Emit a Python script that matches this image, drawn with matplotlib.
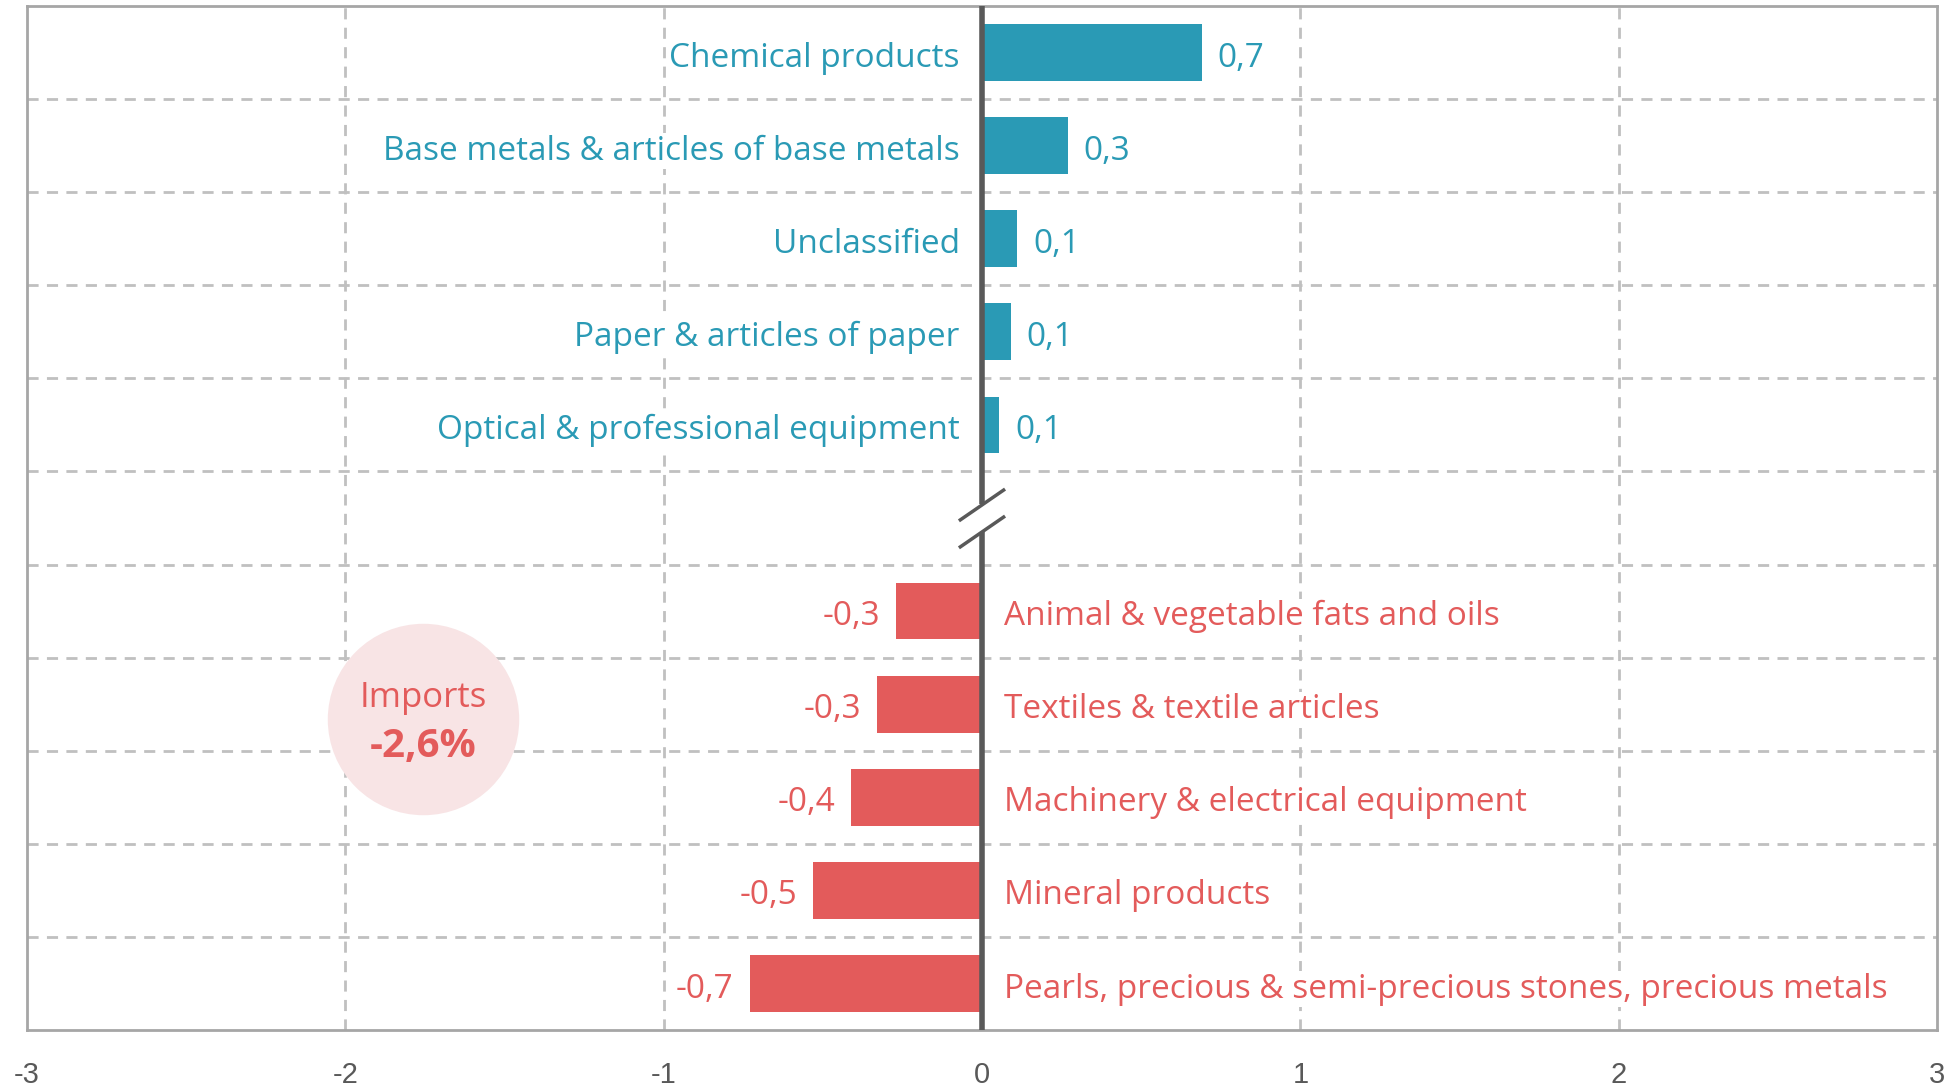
import numpy as np
import matplotlib.pyplot as plt

# data
pos_labels = ['Chemical products', 'Base metals & articles of base metals', 'Unclassified',
              'Paper & articles of paper', 'Optical & professional equipment']
pos_values = [0.69, 0.27, 0.11, 0.09, 0.055]
pos_text = ['0,7', '0,3', '0,1', '0,1', '0,1']

neg_labels = ['Animal & vegetable fats and oils', 'Textiles & textile articles',
              'Machinery & electrical equipment', 'Mineral products',
              'Pearls, precious & semi-precious stones, precious metals']
neg_values = [-0.27, -0.33, -0.41, -0.53, -0.73]
neg_text = ['-0,3', '-0,3', '-0,4', '-0,5', '-0,7']

xticks = [-3, -2, -1, 0, 1, 2, 3]

teal = '#2a9ab5'
red = '#e35b5b'
plt.rcParams['font.family'] = ['Open Sans', 'DejaVu Sans']

fig = plt.figure(figsize=(19.54, 10.91), dpi=100)
ax = fig.add_axes([0.0138, 0.0559, 0.9775, 0.9386])

pos_y = np.arange(len(pos_values))
neg_y = np.arange(len(neg_values)) + len(pos_values) + 1
gap_y = len(pos_values)

ax.barh(pos_y, pos_values, height=0.61, color=teal, zorder=2)
ax.barh(neg_y, neg_values, height=0.61, color=red, zorder=2)

fs = 24
bg = dict(facecolor='white', edgecolor='none', pad=1)
dy = 0.06
for y, v, lab, t in zip(pos_y, pos_values, pos_labels, pos_text):
    ax.text(-0.07, y + dy, lab, ha='right', va='center', color=teal, fontsize=fs, bbox=bg, zorder=4)
    ax.text(v + 0.05, y + dy, t, ha='left', va='center', color=teal, fontsize=fs, bbox=bg, zorder=4)
for y, v, lab, t in zip(neg_y, neg_values, neg_labels, neg_text):
    ax.text(0.07, y + dy, lab, ha='left', va='center', color=red, fontsize=fs, bbox=bg, zorder=4)
    ax.text(v - 0.05, y + dy, t, ha='right', va='center', color=red, fontsize=fs, bbox=bg, zorder=4)

ax.set_xlim(-3, 3)
ax.set_ylim(10.5, -0.5)

# grid
for y in np.arange(0.5, 10, 1):
    ax.axhline(y, color='#c0c0c0', lw=2, ls=(0, (4, 3)), zorder=1)
for x in [-2, -1, 1, 2]:
    ax.axvline(x, color='#c0c0c0', lw=2, ls=(0, (4, 3)), zorder=1)

# zero line with break
zc = '#595959'
ax.plot([0, 0], [-0.5, gap_y - 0.15], color=zc, lw=4, zorder=3, solid_capstyle='butt')
ax.plot([0, 0], [gap_y + 0.15, 10.5], color=zc, lw=4, zorder=3, solid_capstyle='butt')
for c in [gap_y - 0.14, gap_y + 0.15]:
    ax.plot([-0.068, 0.068], [c + 0.16, c - 0.16], color=zc, lw=2.5, zorder=3)

# imports bubble
ax.scatter([-1.755], [7.16], s=19000, color='#f8e4e5', zorder=2, linewidths=0)
ax.text(-1.755, 6.93, 'Imports', ha='center', va='center', color=red, fontsize=25, zorder=4)
ax.text(-1.755, 7.45, '-2,6%', ha='center', va='center', color=red, fontsize=29,
        fontweight='bold', zorder=4)

ax.set_xticks(xticks)
ax.set_xticklabels([str(x) for x in xticks], fontsize=21, color='#595959', family='Liberation Sans')
ax.tick_params(axis='x', length=0, pad=22)
ax.set_yticks([])
for s in ax.spines.values():
    s.set_color('#a6a6a6')
    s.set_linewidth(2)

fig.savefig('out.png', dpi=100)
